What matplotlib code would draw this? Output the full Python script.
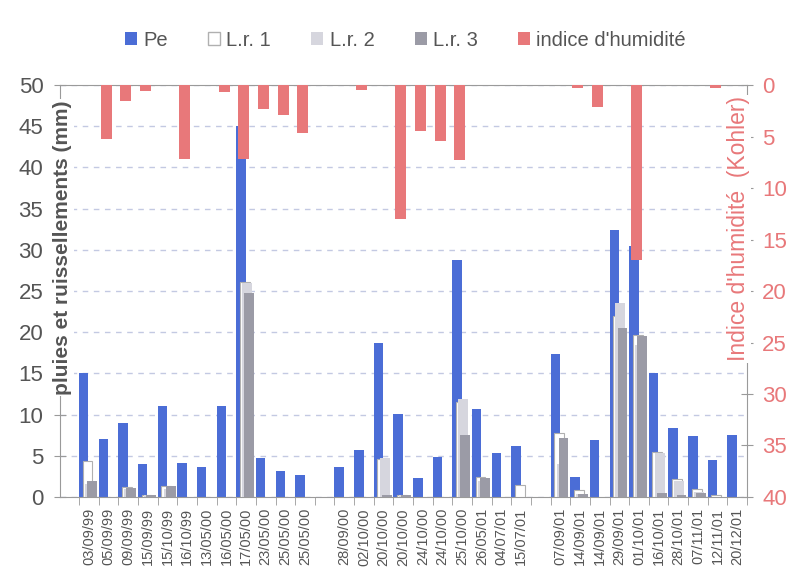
import numpy as np
import matplotlib
matplotlib.use("Agg")
from matplotlib import pyplot as plt
from matplotlib.patches import Patch

plt.rcParams['font.family'] = ['Liberation Sans', 'DejaVu Sans']

nan = np.nan

dates = ['03/09/99', '05/09/99', '09/09/99', '15/09/99', '15/10/99', '16/10/99',
         '13/05/00', '16/05/00', '17/05/00', '23/05/00', '25/05/00', '25/05/00', '',
         '28/09/00', '02/10/00', '20/10/00', '20/10/00', '24/10/00', '24/10/00',
         '25/10/00', '26/05/01', '04/07/01', '15/07/01', '',
         '07/09/01', '14/09/01', '14/09/01', '29/09/01', '01/10/01', '16/10/01',
         '28/10/01', '07/11/01', '12/11/01', '20/12/01']

# pluie (mm)
pe = [15.0, 7.0, 9.0, 4.0, 11.0, 4.1, 3.6, 11.0, 45.0, 4.7, 3.1, 2.7, nan,
      3.7, 5.7, 18.7, 10.1, 2.3, 4.8, 28.8, 10.7, 5.3, 6.2, nan,
      17.3, 2.4, 6.9, 32.4, 30.5, 15.0, 8.4, 7.4, 4.5, 7.5]

# ruissellement des 3 parcelles (mm)
lr1 = [4.4, 0, 1.2, 0.3, 1.3, 0, 0, 0, 26.1, 0, 0, 0, nan,
       0, 0, 4.6, 0.3, 0, 0, 11.5, 2.4, 0, 1.5, nan,
       7.8, 0.8, 0, 22.0, 19.7, 5.5, 2.2, 1.0, 0.3, 0]
lr2 = [1.6, 0, 1.0, 0.2, 1.0, 0, 0, 0, 26.0, 0, 0, 0, nan,
       0, 0, 4.7, 0.2, 0, 0, 11.9, 2.0, 0, 0, nan,
       4.0, 0.4, 0, 23.6, 18.5, 5.3, 2.0, 0.6, 0, 0]
lr3 = [1.9, 0, 1.1, 0.2, 1.3, 0, 0, 0, 24.7, 0, 0, 0, nan,
       0, 0, 0.3, 0.2, 0, 0, 7.5, 2.3, 0, 0, nan,
       7.2, 0.4, 0, 20.5, 19.5, 0.5, 0.3, 0.5, 0, 0]

# indice d'humidite de Kohler
ih = [0, 5.2, 1.5, 0.55, 0, 7.2, 0, 0.65, 7.2, 2.3, 2.9, 4.7, nan,
      0, 0.5, 0, 13.0, 4.5, 5.4, 7.3, 0, 0, 0, nan,
      0, 0.3, 2.1, 0, 17.0, 0, 0, 0, 0.3, 0]

c_pe = '#4b6dd6'
c_lr1 = 'white'
c_lr2 = '#d6d6de'
c_lr3 = '#9b9ba6'
c_ih = '#e8787a'
c_txt = '#555555'
c_axis = '#9a9a9a'


def only_pos(v):
    # pas de barre pour les valeurs nulles
    v = np.array(v, dtype=float)
    return np.where(v > 0, v, nan)


x = np.arange(len(dates))

fig = plt.figure(figsize=(7.98, 5.81), dpi=100)
ax = fig.add_axes([0.0752, 0.1446, 0.861, 0.709])

ax.bar(x - 0.26, only_pos(pe), width=0.48, color=c_pe, zorder=2)
ax.bar(x - 0.07, only_pos(lr1), width=0.5, color=c_lr1, edgecolor='#b0b0b0', linewidth=0.8, zorder=3)
ax.bar(x + 0.05, only_pos(lr2), width=0.5, color=c_lr2, zorder=4)
ax.bar(x + 0.16, only_pos(lr3), width=0.5, color=c_lr3, zorder=5)

ax.set_xlim(-1.47, len(dates) - 0.5)
ax.set_ylim(0, 50)
ax.set_yticks(np.arange(0, 51, 5))
ax.yaxis.grid(True, color='#c3c9e2', linestyle=(0, (4, 4)), linewidth=1.0)
ax.set_axisbelow(True)

ax.set_xticks(x)
ax.set_xticklabels(dates, rotation=90, fontsize=10.5, color=c_txt)
ax.set_xticks(np.arange(-0.5, len(dates), 1), minor=True)
ax.tick_params(axis='x', which='major', length=0, pad=8)
ax.tick_params(axis='x', which='minor', length=6, color=c_axis, direction='out')
ax.tick_params(axis='y', direction='inout', length=8, color=c_axis,
               labelsize=16, labelcolor=c_txt, pad=8)

for side in ['left', 'bottom', 'top']:
    ax.spines[side].set_color(c_axis)
ax.spines['right'].set_visible(False)

ax2 = ax.twinx()
ax2.bar(x - 0.12, only_pos(ih), width=0.56, color=c_ih, zorder=2)
ax2.set_ylim(40, 0)
ax2.set_yticks(np.arange(0, 41, 5))
ax2.tick_params(axis='y', direction='inout', length=8, color=c_axis,
                labelsize=16, labelcolor=c_ih, pad=7)
ax2.spines['right'].set_color(c_axis)
for side in ['left', 'bottom', 'top']:
    ax2.spines[side].set_visible(False)

fig.text(0.0785, 0.574, "pluies et ruissellements (mm)", rotation=90,
         ha='center', va='center', fontsize=15, fontweight='bold', color=c_txt,
         bbox=dict(facecolor='white', edgecolor='none', pad=1))
fig.text(0.925, 0.606, "Indice d'humidité  (Kohler)", rotation=90,
         ha='center', va='center', fontsize=16.5, color=c_ih,
         bbox=dict(facecolor='white', edgecolor='none', pad=1))

handles = [Patch(facecolor=c_pe),
           Patch(facecolor=c_lr1, edgecolor='#b0b0b0'),
           Patch(facecolor=c_lr2),
           Patch(facecolor=c_lr3),
           Patch(facecolor=c_ih)]
names = ['Pe', 'L.r. 1', 'L.r. 2', 'L.r. 3', "indice d'humidité"]
fig.legend(handles, names, loc='center', bbox_to_anchor=(0.508, 0.931), ncol=5,
           frameon=False, fontsize=14.5, handlelength=0.6, handleheight=0.6,
           handletextpad=0.3, columnspacing=2.0, labelcolor=c_txt)

plt.savefig("out.png", dpi=100)
